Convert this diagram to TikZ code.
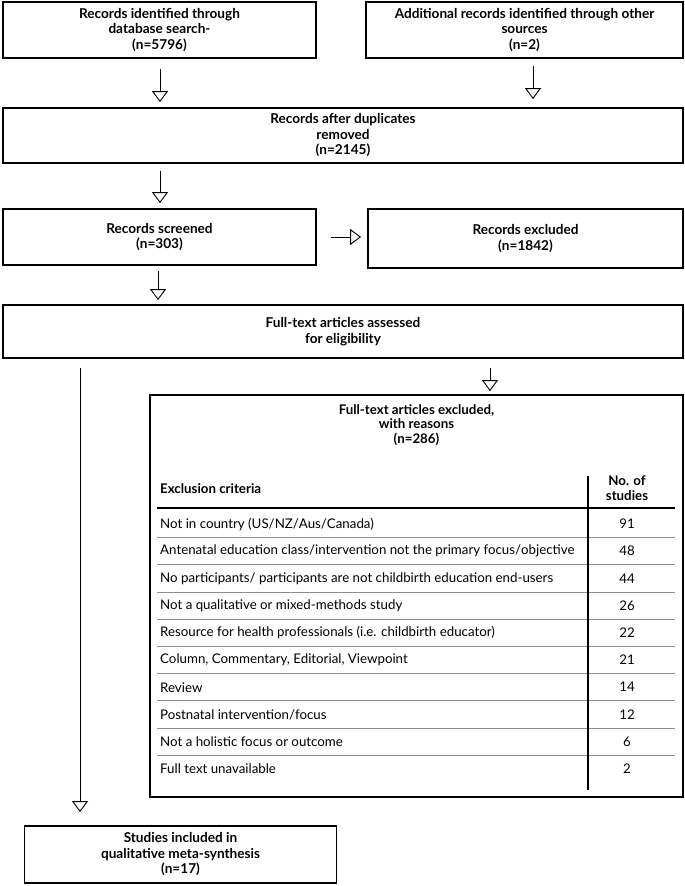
\documentclass[tikz,border=0pt]{standalone}
\usepackage{fontspec}
\setmainfont{Lato}
\usetikzlibrary{arrows.meta}
\begin{document}
\begin{tikzpicture}[x=1pt,y=-1pt,
  box/.style={draw, line width=1.8pt, inner sep=0pt, align=center,
    font=\bfseries\fontsize{13.6}{15.5}\selectfont},
  flow/.style={line width=0.9pt, -{Triangle[open, length=11pt, width=16pt, line width=0.9pt]}},
  rowtxt/.style={anchor=west, inner sep=0pt, font=\fontsize{13.3}{15}\selectfont},
  numtxt/.style={inner sep=0pt, font=\fontsize{13.3}{15}\selectfont},
  sep/.style={draw=black!45, line width=0.7pt}]
\useasboundingbox (0,0) rectangle (685,886);

\node[box, minimum width=313pt, minimum height=56pt] (b1) at (159.5,30) {Records identified through\\database search-\\(n=5796)};
\node[box, minimum width=317pt, minimum height=56pt] (b2) at (524.5,30) {Additional records identified through other\\sources\\(n=2)};
\node[box, minimum width=680pt, minimum height=55pt] (b3) at (343,135.5) {Records after duplicates\\removed\\(n=2145)};
\node[box, minimum width=313pt, minimum height=56pt] (b4) at (159.5,237) {Records screened\\(n=303)};
\node[box, minimum width=315pt, minimum height=59pt] (b5) at (525.5,238.5) {Records excluded\\(n=1842)};
\node[box, minimum width=680pt, minimum height=53pt] (b6) at (343,331.5) {Full-text articles assessed\\for eligibility};
\node[box, minimum width=533pt, minimum height=402pt] (b7) at (416.5,596) {};
\node[align=center, anchor=north, inner sep=0pt, font=\bfseries\fontsize{13.3}{14.5}\selectfont] (h7) at (416.5,404) {Full-text articles excluded,\\with reasons\\(n=286)};
\node[box, minimum width=312pt, minimum height=57pt] (b8) at (180.5,854.5) {Studies included in\\qualitative meta-synthesis\\(n=17)};

% arrows
\draw[flow, shorten <=10pt, shorten >=5pt] ([xshift=0.5pt]b1.south) -- ([xshift=0.5pt]b1.south |- b3.north);
\draw[flow, shorten <=7pt, shorten >=8pt] ([xshift=8.5pt]b2.south) -- ([xshift=8.5pt]b2.south |- b3.north);
\draw[flow, shorten <=7pt, shorten >=5pt] ([xshift=0.5pt]b3.south -| b1.south) -- ([xshift=0.5pt]b4.north);
\draw[flow, shorten <=14pt, shorten >=6pt] (b4.east |- 0,237) -- (b5.west |- 0,237);
\draw[flow, shorten <=5pt, shorten >=4pt] ([xshift=-1.5pt]b4.south) -- ([xshift=-1.5pt]b4.south |- b6.north);
\draw[flow, shorten <=9pt, shorten >=3pt] (b6.south -| 490,0) -- (b7.north -| 490,0);
\draw[flow, shorten <=9pt, shorten >=13pt] (b6.south -| 80,0) -- (b8.north -| 80,0);

% table header
\node[anchor=west, inner sep=0pt, font=\bfseries\fontsize{13.3}{15}\selectfont] (hc) at (160,489) {Exclusion criteria};
\node[align=center, inner sep=0pt, font=\bfseries\fontsize{13.3}{14.5}\selectfont] (hn) at (627,488) {No. of\\studies};
\draw[line width=1.8pt] (157,508) -- (675,508);
\draw[line width=1.8pt] (588,476) -- (588,790);

\foreach \i/\t/\n [count=\k from 0] in {
  1/{Not in country (US\slash NZ\slash Aus\slash Canada)}/91,
  2/{Antenatal education class\slash intervention not the primary focus\slash objective}/48,
  3/{No participants\slash{} participants are not childbirth education end-users}/44,
  4/{Not a qualitative or mixed-methods study}/26,
  5/{Resource for health professionals (i.e. childbirth educator)}/22,
  6/{Column, Commentary, Editorial, Viewpoint}/21,
  7/{Review}/14,
  8/{Postnatal intervention\slash focus}/12,
  9/{Not a holistic focus or outcome}/6,
  10/{Full text unavailable}/2}{
  \node[rowtxt] (r\i) at (160,{524+27.2*\k}) {\t};
  \node[numtxt] (n\i) at (627,{524+27.2*\k}) {\n};
}
\foreach \k in {0,...,8}{
  \draw[sep] (157,{537.6+27.2*\k}) -- (587,{537.6+27.2*\k});
  \draw[sep] (589,{537.6+27.2*\k}) -- (675,{537.6+27.2*\k});
}
\end{tikzpicture}
\end{document}
